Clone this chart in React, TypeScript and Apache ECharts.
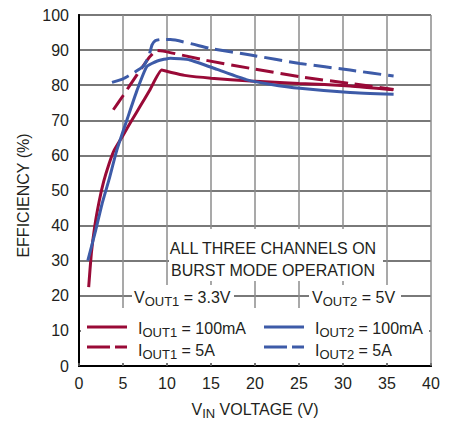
import React, { useEffect, useRef } from "react";
import * as echarts from "echarts";

// IOUT1 = 100mA (VOUT1 = 3.3V)
const r1X = [1.1, 1.4, 1.8, 2.3, 2.8, 3.4, 4, 5, 6, 7, 8, 9.4, 10.5, 12, 15, 19.5, 25, 30.8, 35.7];
const r1Y = [22.5, 32, 40, 47, 52.5, 57.5, 61.5, 65.7, 70, 74.2, 78.4, 84.3, 83.6, 82.8, 82, 81.2, 80.5, 79.8, 78.7];
// IOUT1 = 5A
const r2X = [3.9, 5, 6.6, 8, 8.5, 8.7, 10, 14.2, 19.5, 25.1, 30.8, 35.75];
const r2Y = [73, 77, 83, 88, 89.3, 89.9, 89.5, 87.2, 84.8, 82.4, 80.5, 78.8];
// IOUT2 = 100mA (VOUT2 = 5V)
const b1X = [1, 1.9, 2.6, 3.4, 4.3, 5.5, 6.6, 7.7, 8.9, 10.4, 12.6, 15.7, 19, 21.7, 25.1, 30.8, 35.75];
const b1Y = [30, 38.7, 46, 53, 61.5, 70.5, 78.6, 85.3, 86.9, 87.7, 87.2, 84.5, 81.6, 80.3, 79.1, 77.9, 77.4];
// IOUT2 = 5A
const b2X = [3.75, 5, 5.8, 6.7, 7.35, 7.9, 8.3, 8.7, 9.2, 10.4, 14.9, 19.5, 25.1, 30.8, 35.75];
const b2Y = [80.8, 81.8, 82.9, 84.3, 85.5, 88, 91.5, 92.7, 93, 93, 90.5, 88.6, 86.2, 84.3, 82.6];

const RED = "#990a37";
const BLUE = "#3d5ba8";
const TXT = "#231f20";
const FONT = "'Liberation Sans', Arial, sans-serif";

const zip = (xs: number[], ys: number[]) => xs.map((x, i) => [x, ys[i]]);

const richG = {
  m: { fontSize: 16, fontFamily: FONT, fill: TXT },
  s: { fontSize: 13, fontFamily: FONT, fill: TXT, padding: [8, 0, 0, 0] },
};

const gText = (text: string, x: number, y: number, align = "left") => ({
  type: "text",
  x,
  y,
  z: 10,
  style: {
    text,
    rich: richG,
    fill: TXT,
    font: `16px ${FONT}`,
    align,
    verticalAlign: "middle",
  },
});

const gRect = (x: number, y: number, w: number, h: number) => ({
  type: "rect",
  z: 1,
  shape: { x, y, width: w, height: h },
  style: { fill: "#ffffff" },
});

const gLine = (x1: number, x2: number, y: number, color: string, dash: any) => ({
  type: "line",
  z: 10,
  shape: { x1, y1: y, x2, y2: y },
  style: { stroke: color, lineWidth: 3, lineDash: dash },
});

export default function App() {
  const ref = useRef<HTMLDivElement>(null);
  useEffect(() => {
    const chart = echarts.init(ref.current!, null, { renderer: "svg" });
    const line = (xs: number[], ys: number[], color: string, dashed: boolean) => ({
      type: "line",
      data: zip(xs, ys),
      showSymbol: false,
      smooth: 0.15,
      z: 3,
      lineStyle: { color, width: 3, type: dashed ? [18, 7] : "solid" },
    });
    chart.setOption({
      animation: false,
      grid: { left: 79, right: 24, top: 15, bottom: 58 },
      xAxis: [
        {
          type: "value",
          min: 0,
          max: 40,
          interval: 5,
          position: "bottom",
          axisLine: { show: true, lineStyle: { color: "#000", width: 2 } },
          axisTick: { show: true, inside: true, length: 3, lineStyle: { color: "#666", width: 1.5 } },
          axisLabel: { margin: 9, fontSize: 16, color: TXT, fontFamily: FONT },
          splitLine: { show: true, lineStyle: { color: "#8c8c8c", width: 1.5 } },
          name: "{m|V}{s|IN}{m| VOLTAGE (V)}",
          nameLocation: "middle",
          nameGap: 33,
          nameTextStyle: {
            rich: {
              m: { fontSize: 16, fontFamily: FONT, color: TXT },
              s: { fontSize: 13, fontFamily: FONT, color: TXT, padding: [8, 0, 0, 0] },
            },
          },
        },
        {
          type: "value",
          min: 0,
          max: 40,
          interval: 5,
          position: "top",
          axisLine: { show: true, lineStyle: { color: "#000", width: 2 } },
          axisTick: { show: false },
          axisLabel: { show: false },
          splitLine: { show: false },
        },
      ],
      yAxis: [
        {
          type: "value",
          min: 0,
          max: 100,
          interval: 10,
          position: "left",
          axisLine: { show: true, lineStyle: { color: "#000", width: 2 } },
          axisTick: { show: false },
          axisLabel: { margin: 10, fontSize: 16, color: TXT, fontFamily: FONT },
          splitLine: { show: true, lineStyle: { color: "#4d4d4d", width: 1.5 } },
          name: "EFFICIENCY (%)",
          nameLocation: "middle",
          nameGap: 46,
          nameTextStyle: { fontSize: 16, fontFamily: FONT, color: TXT, padding: [0, 10, 0, 0] },
        },
        {
          type: "value",
          min: 0,
          max: 100,
          interval: 10,
          position: "right",
          axisLine: { show: true, lineStyle: { color: "#000", width: 2 } },
          axisTick: { show: false },
          axisLabel: { show: false },
          splitLine: { show: false },
        },
      ],
      series: [
        line(r1X, r1Y, RED, false),
        line(r2X, r2Y, RED, true),
        line(b1X, b1Y, BLUE, false),
        line(b2X, b2Y, BLUE, true),
      ],
      graphic: [
        gRect(169, 229, 214, 52),
        gRect(132, 285, 102, 23),
        gRect(309, 285, 92, 23),
        gRect(81, 308, 348, 55),
        gText("ALL THREE CHANNELS ON", 273, 248, "center"),
        gText("BURST MODE OPERATION", 273, 270, "center"),
        gText("{m|V}{s|OUT1}{m| = 3.3V}", 134, 297),
        gText("{m|V}{s|OUT2}{m| = 5V}", 312, 297),
        gLine(87, 127, 327, RED, null),
        gLine(87, 127, 347, RED, [23, 5]),
        gLine(264, 304, 327, BLUE, null),
        gLine(264, 304, 347, BLUE, [23, 5]),
        gText("{m|I}{s|OUT1}{m| = 100mA}", 138, 328),
        gText("{m|I}{s|OUT1}{m| = 5A}", 138, 350),
        gText("{m|I}{s|OUT2}{m| = 100mA}", 315, 328),
        gText("{m|I}{s|OUT2}{m| = 5A}", 315, 350),
      ],
    });
    return () => chart.dispose();
  }, []);
  return (
    <div
      ref={ref}
      style={{ position: "absolute", left: 0, top: 0, width: 455, height: 425 }}
    />
  );
}
